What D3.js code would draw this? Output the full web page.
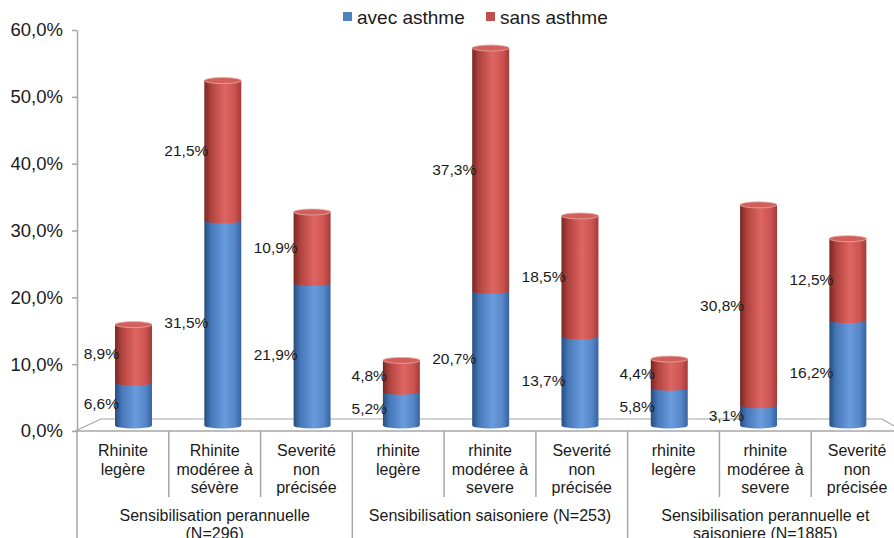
<!DOCTYPE html>
<html lang="fr">
<head>
	<meta charset="UTF-8">
	<title>Rhinite et asthme</title>
	<script src="https://cdn.jsdelivr.net/npm/d3@7/dist/d3.min.js"></script>
	<style>
		body { margin: 0; background: #fff; }
		text { font-family: "Liberation Sans", Arial, sans-serif; fill: #1a1a1a; }
		.axis path, .axis line { stroke: #a6a6a6; }
	</style>
</head>
<body>
	<div id="container"></div>
	<script>
		// data
		var categories = [
			["Rhinite", "legère"],
			["Rhinite", "modéree à", "sévère"],
			["Severité", "non", "précisée"],
			["rhinite", "legère"],
			["rhinite", "modéree à", "severe"],
			["Severité", "non", "précisée"],
			["rhinite", "legère"],
			["rhinite", "modéree à", "severe"],
			["Severité", "non", "précisée"]
		];
		var groups = [
			["Sensibilisation perannuelle", "(N=296)"],
			["Sensibilisation saisoniere (N=253)"],
			["Sensibilisation perannuelle et", "saisoniere (N=1885)"]
		];
		var seriesNames = ["avec asthme", "sans asthme"];
		var avec = [6.6, 31.5, 21.9, 5.2, 20.7, 13.7, 5.8, 3.1, 16.2];
		var sans = [8.9, 21.5, 10.9, 4.8, 37.3, 18.5, 4.4, 30.8, 12.5];
		var yTicks = [0, 10, 20, 30, 40, 50, 60];

		var width = 894, height = 538;
		var colors = ["#4f81bd", "#c0504d"];

		var svg = d3.select("#container").append("svg")
				.attr("width", width)
				.attr("height", height);

		var fmt = function(v){ return d3.format(".1f")(v).replace(".", ",") + "%"; };

		// gradients for the cylinders
		var defs = svg.append("defs");
		var gradStops = [
			[["0", "#284c7c"], ["0.18", "#4577b9"], ["0.55", "#6a9bdc"], ["0.82", "#5587ca"], ["1", "#3863a0"]],
			[["0", "#772724"], ["0.18", "#b0423e"], ["0.55", "#de6662"], ["0.82", "#cd5450"], ["1", "#a33b38"]]
		];
		gradStops.forEach(function(stops, i){
			var g = defs.append("linearGradient").attr("id", "grad" + i)
					.attr("x1", "0").attr("x2", "1").attr("y1", "0").attr("y2", "0");
			stops.forEach(function(s){
				g.append("stop").attr("offset", s[0]).attr("stop-color", s[1]);
			});
		});

		// scales
		var yAxisScale = d3.scaleLinear().domain([0, 60]).range([431, 30]);
		var yBar = d3.scaleLinear().domain([0, 60]).range([425.5, 35]);
		var xCat = d3.scaleBand().domain(d3.range(9)).range([77, 903]);
		var xBar = d3.scaleBand().domain(d3.range(9)).range([88.85, 892.5])
				.paddingInner(0.586).paddingOuter(0.293);

		// floor
		svg.append("path")
				.attr("d", d3.line()([[75, 431], [101, 419], [882, 419], [903, 431]]))
				.attr("fill", "none")
				.attr("stroke", "#a6a6a6")
				.attr("stroke-width", 1.2);

		// y axis
		var yAxis = d3.axisLeft(yAxisScale).tickValues(yTicks).tickSize(5).tickSizeOuter(0)
				.tickFormat(fmt).tickPadding(9);
		var yAxisG = svg.append("g").attr("class", "axis")
				.attr("transform", "translate(77,0)")
				.call(yAxis);
		yAxisG.select(".domain").attr("stroke-width", 1.5);
		yAxisG.selectAll("text").style("font-size", "18.5px").attr("fill", "#1a1a1a");
		yAxisG.selectAll("line").attr("stroke-width", 1.5);

		// category axis line and separators
		svg.append("line")
				.attr("x1", 77).attr("x2", width).attr("y1", 431).attr("y2", 431)
				.attr("stroke", "#a6a6a6").attr("stroke-width", 1.5);
		svg.append("line")
				.attr("x1", 77).attr("x2", 77).attr("y1", 431).attr("y2", height)
				.attr("stroke", "#a6a6a6").attr("stroke-width", 1.5);
		d3.range(1, 9).forEach(function(k){
			var x = xCat(k);
			svg.append("line")
					.attr("x1", x).attr("x2", x)
					.attr("y1", 431).attr("y2", k % 3 === 0 ? height : 497)
					.attr("stroke", "#a6a6a6").attr("stroke-width", 1.5);
		});

		// category labels
		categories.forEach(function(lines, i){
			var t = svg.append("text")
					.attr("text-anchor", "middle")
					.style("font-size", "16px");
			lines.forEach(function(l, j){
				t.append("tspan")
						.attr("x", xCat(i) + xCat.bandwidth() / 2)
						.attr("y", 456 + j * 18.5)
						.text(l);
			});
		});

		// group labels
		groups.forEach(function(lines, g){
			var cx = (xCat(g * 3) + xCat(g * 3 + 2) + xCat.bandwidth()) / 2;
			var t = svg.append("text")
					.attr("text-anchor", "middle")
					.style("font-size", "16px");
			lines.forEach(function(l, j){
				t.append("tspan")
						.attr("x", cx)
						.attr("y", 521 + j * 17.5)
						.text(l);
			});
		});

		// stacked cylinders
		var stacked = categories.map(function(c, i){
			return [[0, avec[i]], [avec[i], avec[i] + sans[i]]];
		});

		var rx = xBar.bandwidth() / 2, ry = 3;

		function bodyPath(x, y0, y1) {
			return "M" + x + "," + y1 +
				"L" + x + "," + y0 +
				"A" + rx + "," + ry + " 0 0 0 " + (x + 2 * rx) + "," + y0 +
				"L" + (x + 2 * rx) + "," + y1 + "Z";
		}

		var barG = svg.append("g");
		stacked.forEach(function(segs, i){
			var x = xBar(i);
			segs.forEach(function(s, k){
				barG.append("path")
						.attr("d", bodyPath(x, yBar(s[0]), yBar(s[1])))
						.attr("fill", "url(#grad" + k + ")");
			});
			var top = yBar(segs[1][1]);
			barG.append("ellipse")
					.attr("cx", x + rx).attr("cy", top)
					.attr("rx", rx).attr("ry", ry)
					.attr("fill", "#d0605c")
					.attr("stroke", "#e8a8a5")
					.attr("stroke-width", 0.8);
		});

		// data labels
		var vals = [avec, sans];
		stacked.forEach(function(segs, i){
			segs.forEach(function(s, k){
				svg.append("text")
						.attr("x", xBar(i) + 4)
						.attr("y", (yBar(s[0]) + yBar(s[1])) / 2)
						.attr("dy", "0.35em")
						.attr("text-anchor", "end")
						.style("font-size", "15.5px")
						.text(fmt(vals[k][i]));
			});
		});

		// legend
		var legendX = [343, 486];
		seriesNames.forEach(function(n, k){
			svg.append("rect")
					.attr("x", legendX[k]).attr("y", 12)
					.attr("width", 9).attr("height", 9)
					.attr("fill", colors[k]);
			svg.append("text")
					.attr("x", legendX[k] + 14).attr("y", 17)
					.attr("dy", "0.35em")
					.style("font-size", "19px")
					.text(n);
		});
	</script>
</body>
</html>
